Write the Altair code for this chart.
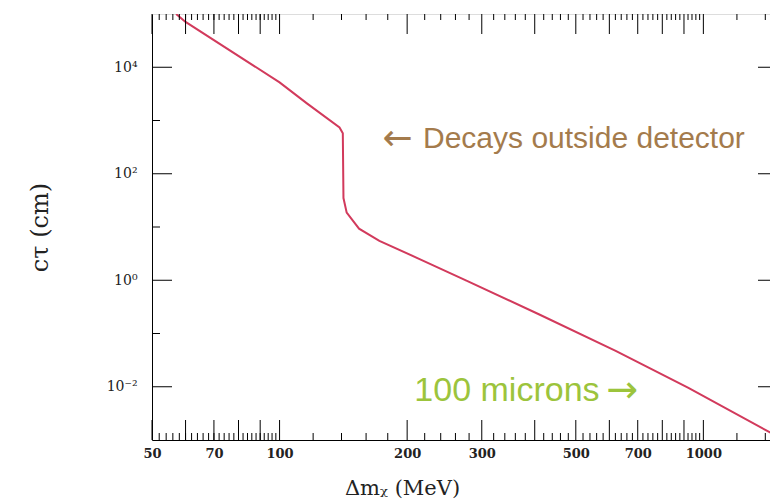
import altair as alt
import pandas as pd

# ---- data ----
mass_mev = [57, 60, 100, 116, 138.5, 141, 141.5, 144, 154, 172, 214, 276, 409, 621, 922, 1446]
ctau_cm = [1.0e5, 7.1e4, 5.2e3, 2.1e3, 740, 575, 35, 18.6, 9.3, 5.5, 2.5, 0.98, 0.23, 0.047, 0.0095, 0.00135]

x_label_values = [50, 70, 100, 200, 300, 500, 700, 1000]
x_major_ticks = [50, 60, 70, 80, 90, 100, 200, 300, 400, 500, 600, 700, 800, 900, 1000]
x_minor_ticks = ([v for v in range(52, 100, 2)] +
                 [v for v in range(120, 1000, 20) if v % 100 != 0] +
                 [1200, 1400])
y_label_values = [1e-2, 1e0, 1e2, 1e4]
y_minor_ticks = [1e-1, 1e1, 1e3]

ann1_arrow = ["←"]
ann1_arrow_m = [175]
ann1_text = ["Decays outside detector"]
ann1_m = [218]
ann1_ct = [457]
ann2_text = ["100 microns"]
ann2_m = [208]
ann2_arrow = ["→"]
ann2_arrow_m = [590]
ann2_ct = [0.0083]

W, H = 626, 426
XMAX = 1500
RED = "#d23a5c"
BROWN = "#a47b4c"
GREEN = "#9cc43c"

xs = alt.Scale(type="log", domain=[50, XMAX], nice=False)
ys = alt.Scale(type="log", domain=[1e-3, 1e5], nice=False)

df = pd.DataFrame({"m": mass_mev, "ct": ctau_cm})

xaxis = alt.Axis(values=x_label_values, format="d", grid=False, ticks=False,
                 domain=True, domainColor="black", domainWidth=1, labelPadding=7,
                 labelFont="DejaVu Serif", labelFontSize=13, labelFontWeight="bold",
                 labelColor="#222", labelFlush=False,
                 title="Δmᵪ (MeV)", titleFont="DejaVu Serif", titleFontSize=21,
                 titleFontWeight="normal", titleX=250, titleY=48,
                 titleAlign="center", titleBaseline="middle", titleColor="#222")
yaxis = alt.Axis(values=y_label_values, grid=False, ticks=False, domain=True,
                 domainColor="black", domainWidth=1, labelPadding=15,
                 labelExpr="datum.value > 1000 ? '10⁴' : datum.value > 10 ? '10²' : datum.value > 0.1 ? '10⁰' : '10⁻²'",
                 labelFont="DejaVu Serif", labelFontSize=14, labelColor="#222",
                 title="cτ (cm)", titleFont="DejaVu Serif", titleFontSize=24,
                 titleFontWeight="normal", titleX=-112, titleY=H / 2,
                 titleAngle=-90, titleAlign="center", titleBaseline="middle",
                 titleColor="#222")

line = alt.Chart(df).mark_line(color=RED, strokeWidth=2, clip=True).encode(
    x=alt.X("m:Q", scale=xs, axis=xaxis),
    y=alt.Y("ct:Q", scale=ys, axis=yaxis),
)

def xticks(vals, y0, y1):
    return alt.Chart(pd.DataFrame({"m": vals})).mark_rule(color="black", strokeWidth=1).encode(
        x=alt.X("m:Q", scale=xs), y=alt.value(y0), y2=alt.value(y1))

def yticks(vals, x0, x1):
    return alt.Chart(pd.DataFrame({"ct": vals})).mark_rule(color="black", strokeWidth=1).encode(
        y=alt.Y("ct:Q", scale=ys), x=alt.value(x0), x2=alt.value(x1))

ticks = [
    xticks(x_major_ticks, H, H - 20), xticks(x_minor_ticks, H, H - 7),
    xticks(x_major_ticks, 0, 20), xticks(x_minor_ticks, 0, 6),
    yticks(y_label_values, 0, 20), yticks(y_minor_ticks, 0, 8),
    yticks(y_label_values, W, W - 20), yticks(y_minor_ticks, W, W - 8),
]

def label(ms, cts, texts, font, size, color):
    return alt.Chart(pd.DataFrame({"m": ms, "ct": cts, "t": texts})).mark_text(
        align="left", baseline="middle", font=font, fontSize=size, color=color
    ).encode(x=alt.X("m:Q", scale=xs), y=alt.Y("ct:Q", scale=ys), text="t:N")

anns = [
    label(ann1_arrow_m, ann1_ct, ann1_arrow, "DejaVu Sans", 36, BROWN),
    label(ann1_m, ann1_ct, ann1_text, "Liberation Sans", 30, BROWN),
    label(ann2_m, ann2_ct, ann2_text, "Liberation Sans", 34, GREEN),
    label(ann2_arrow_m, ann2_ct, ann2_arrow, "DejaVu Sans", 38, GREEN),
]

chart = alt.layer(line, *ticks, *anns).properties(
    width=W, height=H,
    autosize=alt.AutoSizeParams(type="none"),
    padding={"left": 144, "top": 6, "right": -8, "bottom": 62},
).configure_view(stroke=None).configure(background="white")

chart.save("out.html", embed_options={"renderer": "svg", "actions": False})
